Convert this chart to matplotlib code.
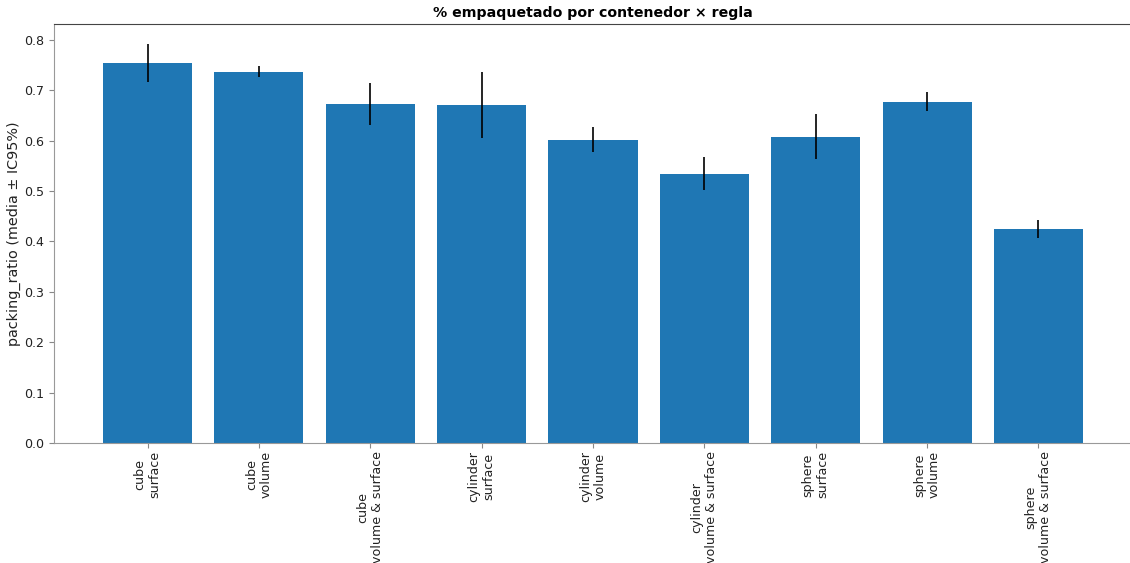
import numpy as np
import matplotlib
matplotlib.use("Agg")
import matplotlib.pyplot as plt

# packing ratio per container / rule, mean and 95% CI bounds
containers = ["cube", "cube", "cube", "cylinder", "cylinder", "cylinder",
              "sphere", "sphere", "sphere"]
rules = ["surface", "volume", "volume & surface"] * 3
means = [0.754, 0.737, 0.673, 0.671, 0.601, 0.534, 0.607, 0.677, 0.424]
ci_low = [0.716, 0.727, 0.631, 0.605, 0.577, 0.502, 0.563, 0.658, 0.406]
ci_high = [0.792, 0.748, 0.714, 0.736, 0.627, 0.567, 0.653, 0.696, 0.443]

labels = [f"{c}\n{r}" for c, r in zip(containers, rules)]
means = np.array(means)
yerr = np.vstack([means - np.array(ci_low), np.array(ci_high) - means])

fig = plt.figure(figsize=(11.3, 5.63), dpi=100)
ax = fig.add_axes([54 / 1130, 1 - 443 / 563, 1078 / 1130, 419 / 563])

x = np.arange(len(labels))
ax.bar(x, means, width=0.8, color="#1f77b4", yerr=yerr,
       error_kw=dict(ecolor="black", elinewidth=1.2))
ax.set_xticks(x)
ax.set_xticklabels(labels, rotation=90, fontsize=9.1, color="#222222")
ax.tick_params(axis="y", labelsize=9.1, labelcolor="#222222", color="#888888")
ax.tick_params(axis="x", pad=2.5, color="#888888")
for side in ("left", "bottom"):
    ax.spines[side].set_color("#999999")
ax.spines["top"].set_color("#444444")
ax.set_ylabel("packing_ratio (media ± IC95%)", fontsize=10.4, labelpad=2,
              color="#222222")
ax.set_title("% empaquetado por contenedor × regla", fontsize=10.2,
             weight="bold", pad=5)

plt.savefig("out.png", dpi=100)
plt.close()
